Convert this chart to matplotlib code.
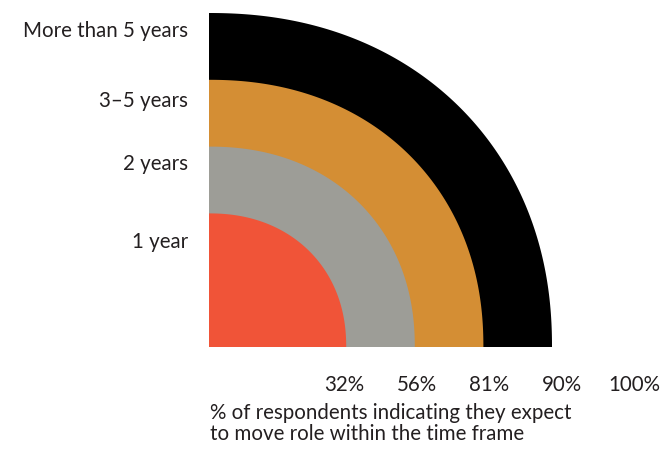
import numpy as np
import matplotlib
matplotlib.use("Agg")
import matplotlib.pyplot as plt

categories = ["1 year", "2 years", "3–5 years", "More than 5 years"]
values = [32, 56, 81, 90]
scale_labels = ["32%", "56%", "81%", "90%", "100%"]
colors = ["#f05438", "#9d9d97", "#d48e34", "#000000"]
xlabel = "% of respondents indicating they expect\nto move role within the time frame"

plt.rcParams['font.family'] = ['Lato', 'DejaVu Sans']
txt_color = "#231f20"
fs = 14.8

W, H = 669, 468
fig = plt.figure(figsize=(W / 100, H / 100), dpi=100)
# axes: origin at pixel (209,347); outer ring reaches (552, 13); axes runs to right edge
x0, y0, ring_w, ring_h = 209, 347, 343, 334
ax_w = W - x0
ax = fig.add_axes([x0 / W, (H - y0) / H, ax_w / W, ring_h / H])

n = 2.15
t = np.linspace(0, np.pi / 2, 400)
radii = [i + 2 for i in range(len(values))]
rmax = max(radii)
for r, c in sorted(zip(radii, colors), reverse=True):
    xs = r * np.cos(t) ** (2 / n)
    ys = r * np.sin(t) ** (2 / n)
    px = np.concatenate([[0], xs, [0]])
    py = np.concatenate([[0], ys, [0]])
    ax.fill(px, py, color=c, lw=0, clip_on=False)

for s in ax.spines.values():
    s.set_visible(False)

label_drop = [0.40, 0.23, 0.29, 0.24]  # layout: label offset below ring top
ax.set_yticks([r - d for r, d in zip(radii, label_drop)])
ax.set_yticklabels(categories, fontsize=fs, color=txt_color)
ax.tick_params(axis='y', length=0, pad=15)

tick_step = 1.058
ax.set_xticks([1.968 + i * tick_step for i in range(len(scale_labels))])
ax.set_xticklabels(scale_labels, fontsize=fs, color=txt_color)
ax.tick_params(axis='x', length=0, pad=20)

ax.set_xlim(0, rmax * ax_w / ring_w)
ax.set_ylim(0, rmax)

fig.text(210 / W, 1 - 440 / H, xlabel, ha='left', va='baseline', fontsize=fs,
         color=txt_color, linespacing=1.05)

fig.savefig("out.png", dpi=100)
